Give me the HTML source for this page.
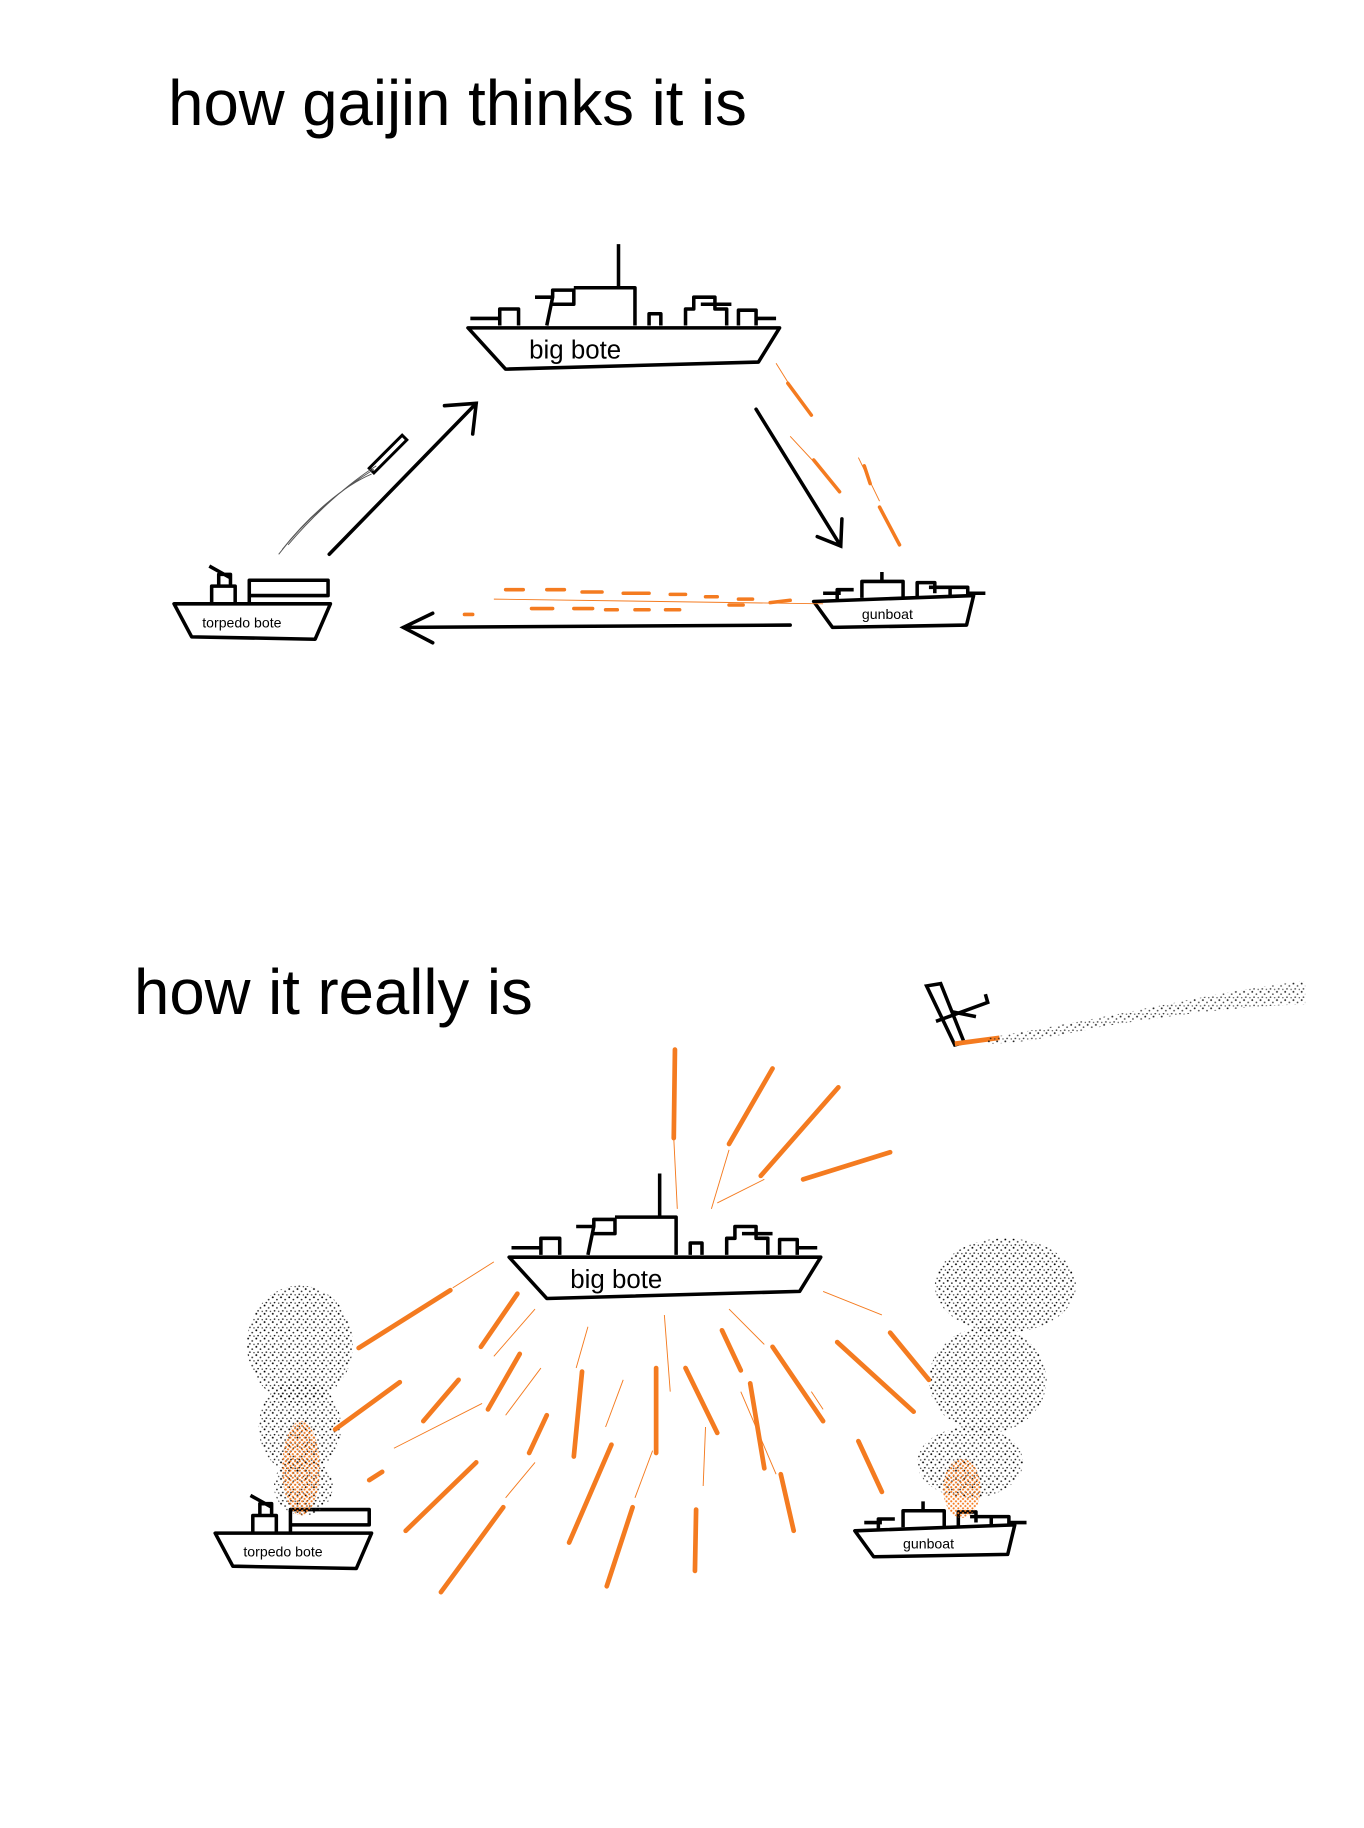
<!DOCTYPE html>
<html><head><meta charset="utf-8"><style>
html,body{margin:0;padding:0;background:#fff;}
svg{display:block;}
text{font-family:"Liberation Sans",Arial,sans-serif;fill:#000;}
</style></head><body>
<svg width="1364" height="1828" viewBox="0 0 1160 1550" preserveAspectRatio="none" xmlns="http://www.w3.org/2000/svg">
<defs>
<pattern id="smoke" width="7" height="7" patternUnits="userSpaceOnUse">
<circle cx="1" cy="1" r="0.8" fill="#000"/><circle cx="4.5" cy="3" r="0.7" fill="#222"/><circle cx="2.5" cy="5.5" r="0.7" fill="#111"/><circle cx="6" cy="6" r="0.6" fill="#333"/>
</pattern>
<pattern id="fire" width="4" height="4" patternUnits="userSpaceOnUse">
<circle cx="1" cy="1" r="0.9" fill="#f47b20"/><circle cx="3" cy="3" r="0.9" fill="#f47b20"/>
</pattern>
<g id="big" fill="none" stroke="#000" stroke-width="3" stroke-linejoin="round">
<path d="M398,278 L663,278 L645,307 L430,313 Z"/>
<path d="M400,270 L425,270 M425,276 L425,262 L441,262 L441,276 M455,252 L470,252 L465,276 M470,252 L470,246 L488,246 L488,258 L470,258 M488,244 L540,244 L540,276 M526,207 L526,244 M552,276 L552,266 L562,266 L562,276 M583,276 L583,262 L590,262 L590,252 L608,252 L608,262 L618,262 L618,276 M596,258 L622,258 M628,276 L628,263 L643,263 L643,276 M643,270 L660,270"/>
</g>
<g id="tb" fill="none" stroke="#000" stroke-width="3" stroke-linejoin="round">
<path d="M148,512 L281,512 L268,542 L163,540 Z"/>
<path d="M180,512 L180,497 L200,497 L200,512 M186,497 L186,487 L196,487 L196,497 M178,480 L196,490 M212,512 L212,492 L279,492 L279,505 L212,505"/>
</g>
<g id="gb" fill="none" stroke="#000" stroke-width="3" stroke-linejoin="round">
<path d="M692,510 L828,505 L822,530 L708,532 Z"/>
<path d="M700,503 L715,503 M712,510 L712,500 L726,500 M733,507 L733,493 L750,493 L750,485 M750,493 L768,493 L768,507 M780,507 L780,494 L795,494 L795,503 M790,498 L808,498 M808,505 L808,498 L823,498 L823,505 M823,503 L838,503"/>
</g>
</defs>

<text x="143" y="106" font-size="54">how gaijin thinks it is</text>
<text x="114" y="860" font-size="54">how it really is</text>

<!-- top -->
<use href="#big"/>
<text x="450" y="304" font-size="22">big bote</text>
<use href="#tb"/>
<text x="172" y="532" font-size="12">torpedo bote</text>
<use href="#gb"/>
<text x="733" y="525" font-size="12">gunboat</text>

<g stroke="#000" stroke-width="3" fill="none" stroke-linecap="round">
<path d="M280,470 L405,342 M378,344 L405,342 L402,368"/>
<path d="M643,347 L715,463 M695,455 L715,463 L716,440"/>
<path d="M672,530 L343,532 M368,520 L343,532 L368,545"/>
<path d="M314,397 L342,369 L346,373 L318,401 Z" stroke-width="2.5"/>
</g>
<g stroke="#555" stroke-width="0.8" fill="none">
<path d="M237,470 C260,440 290,415 318,398 M240,466 C262,438 292,412 316,402 M245,462 C268,435 296,410 320,395"/>
</g>
<g stroke="#f47b20" stroke-width="3" fill="none" stroke-linecap="round">
<path d="M670,325 L690,352 M692,390 L714,417 M748,430 L765,462 M735,395 L740,410"/>
<path d="M430,500 L445,500 M465,500 L480,500 M495,502 L512,502 M530,503 L552,503 M570,504 L583,504 M600,506 L610,506 M628,508 L640,508 M655,511 L672,509 M395,521 L402,521 M452,516 L470,516 M488,516 L504,516 M515,517 L525,517 M540,517 L552,517 M566,517 L578,517 M620,513 L632,513"/>
</g>
<g stroke="#f47b20" stroke-width="0.8" fill="none"><path d="M660,308 L680,340 M672,370 L700,400 M730,388 L748,425 M420,508 L700,512"/></g>

<!-- bottom -->
<g transform="translate(35,788)">
<use href="#big"/>
<use href="#tb"/>
<use href="#gb"/>
</g>
<text x="485" y="1092" font-size="22">big bote</text>
<text x="207" y="1320" font-size="12">torpedo bote</text>
<text x="768" y="1313" font-size="12">gunboat</text>

<!-- plane -->
<g stroke="#000" stroke-width="3" fill="none">
<path d="M788,836 L800,834 L820,884 L812,886 Z M796,866 L840,850 L838,843 M810,858 L830,862"/>
</g>
<path d="M812,885 L850,880" stroke="#f47b20" stroke-width="4"/>
<path d="M840,880 C900,870 950,860 1000,850 C1040,842 1080,835 1110,832 L1110,852 C1060,852 990,862 940,870 C900,878 870,885 840,885 Z" fill="url(#smoke)" opacity="0.85"/>

<!-- smoke columns -->
<g fill="url(#smoke)">
<ellipse cx="255" cy="1140" rx="45" ry="50"/>
<ellipse cx="255" cy="1210" rx="35" ry="40"/>
<ellipse cx="258" cy="1260" rx="25" ry="25"/>
<ellipse cx="855" cy="1090" rx="60" ry="40"/>
<ellipse cx="840" cy="1170" rx="50" ry="45"/>
<ellipse cx="825" cy="1240" rx="45" ry="30"/>
</g>
<g fill="url(#fire)">
<ellipse cx="256" cy="1245" rx="16" ry="40"/>
<ellipse cx="818" cy="1262" rx="16" ry="25"/>
</g>

<!-- orange shells -->
<g stroke="#f47b20" stroke-width="4" fill="none" stroke-linecap="round">
<path d="M574,890 L573,965 M657,906 L620,970 M713,922 L647,997 M757,977 L683,1000"/>
<path d="M383,1094 L305,1143 M440,1097 L409,1142 M340,1172 L285,1212 M390,1170 L360,1205 M442,1148 L415,1195 M465,1200 L450,1232 M325,1248 L314,1255 M405,1240 L345,1298 M428,1278 L375,1350 M495,1163 L488,1235 M520,1225 L484,1308 M538,1278 L516,1345 M558,1160 L558,1232 M592,1280 L591,1332 M583,1160 L610,1215 M614,1128 L630,1162 M638,1173 L650,1245 M664,1250 L675,1298 M657,1142 L700,1205 M712,1138 L777,1197 M757,1130 L790,1170 M730,1222 L750,1265"/>
</g>
<g stroke="#f47b20" stroke-width="0.8" fill="none">
<path d="M573,965 L576,1025 M620,975 L605,1025 M650,1000 L610,1020 M420,1070 L385,1092 M455,1110 L420,1150 M500,1125 L490,1160 M565,1115 L570,1180 M620,1110 L650,1140 M700,1095 L750,1115 M335,1228 L410,1190 M460,1160 L430,1200 M530,1170 L515,1210 M555,1230 L540,1270 M600,1210 L598,1260 M630,1180 L660,1250 M690,1180 L700,1195 M455,1240 L430,1270"/>
</g>
</svg>
</body></html>
